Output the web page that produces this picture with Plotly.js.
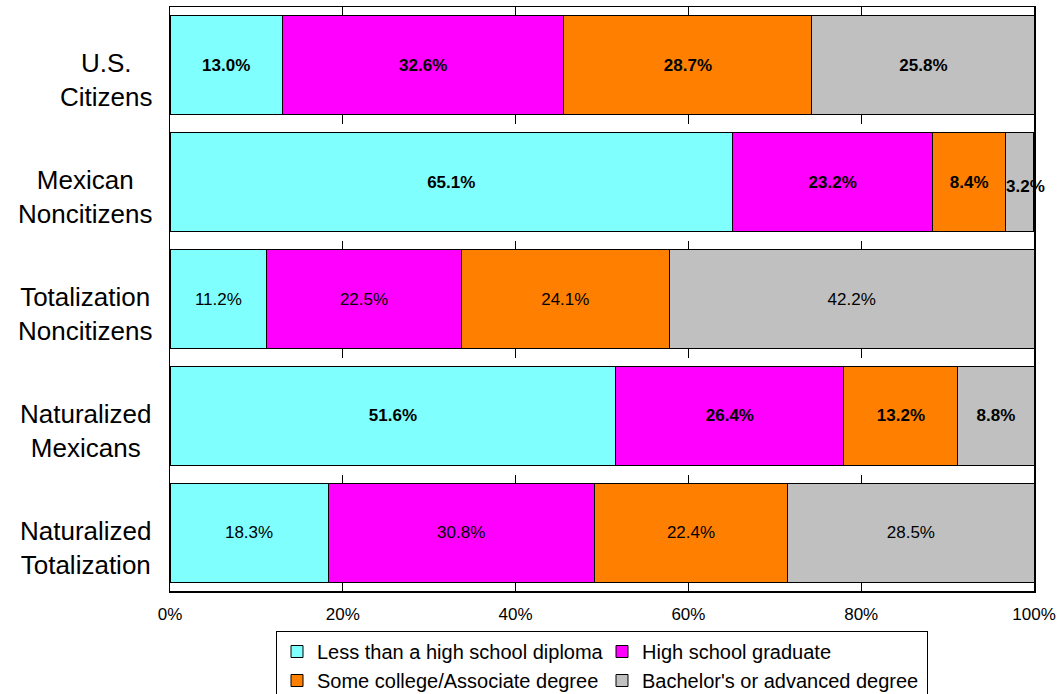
<!DOCTYPE html>
<html>
<head>
<meta charset="utf-8">
<script src="https://cdn.plot.ly/plotly-3.0.1.min.js"></script>
<style>html,body{margin:0;padding:0;background:#fff;}#chart{width:1060px;height:694px;}</style>
</head>
<body>
<div id="chart"></div>
<script>
const categories = ["U.S.<br>Citizens", "Mexican<br>Noncitizens", "Totalization<br>Noncitizens", "Naturalized<br>Mexicans", "Naturalized<br>Totalization"];
const boldLabels = [true, true, false, true, false];
const seriesNames = ["Less than a high school diploma", "High school graduate", "Some college/Associate degree", "Bachelor's or advanced degree"];
const lessThanHS = [13.0, 65.1, 11.2, 51.6, 18.3];
const hsGraduate = [32.6, 23.2, 22.5, 26.4, 30.8];
const someCollege = [28.7, 8.4, 24.1, 13.2, 22.4];
const bachelors = [25.8, 3.2, 42.2, 8.8, 28.5];
const tickVals = [0, 20, 40, 60, 80, 100];
const tickText = ["0%", "20%", "40%", "60%", "80%", "100%"];
const colors = ["#80FFFF", "#FF00FF", "#FF8000", "#C0C0C0"];

const FONT = "'Liberation Sans', Arial, sans-serif";
const seriesValues = [lessThanHS, hsGraduate, someCollege, bachelors];
const SMALL = 5; // labels of segments narrower than this overflow the bar
const labelOf = (v, i) => boldLabels[i] ? "<b>" + v.toFixed(1) + "%</b>" : v.toFixed(1) + "%";

const traces = seriesValues.map((vals, s) => ({
  type: "bar",
  orientation: "h",
  name: seriesNames[s],
  y: categories,
  x: vals,
  text: vals.map((v, i) => v < SMALL ? "" : labelOf(v, i)),
  textposition: "inside",
  insidetextanchor: "middle",
  constraintext: "none",
  textangle: 0,
  textfont: {family: FONT, size: 17, color: "#000"},
  marker: {color: colors[s], line: {color: "#000", width: 1}},
  hoverinfo: "skip"
}));

const annotations = categories.map(c => ({
  xref: "paper", yref: "y", x: 0, y: c,
  xanchor: "right", yanchor: "middle",
  xshift: -16, yshift: -15, align: "center", showarrow: false,
  text: c,
  font: {family: FONT, size: 26, color: "#000"}
}));

// labels of very narrow segments, drawn over the bar edge
seriesValues.forEach((vals, s) => {
  vals.forEach((v, i) => {
    if (v >= SMALL) return;
    let start = 0;
    for (let k = 0; k < s; k++) start += seriesValues[k][i];
    annotations.push({
      xref: "x", yref: "y", x: start + v / 2, y: categories[i],
      xanchor: "center", yanchor: "middle", xshift: 6, yshift: -4,
      text: labelOf(v, i), showarrow: false,
      font: {family: FONT, size: 17, color: "#000"}
    });
  });
});

const layout = {
  width: 1060, height: 694,
  margin: {l: 170, r: 26, t: 7, b: 103, autoexpand: false},
  paper_bgcolor: "#fff",
  plot_bgcolor: "#fff",
  barmode: "stack",
  bargap: 0.154,
  font: {family: FONT, color: "#000"},
  showlegend: true,
  legend: {
    orientation: "h",
    x: 0.5, xanchor: "center",
    y: -0.0685, yanchor: "top",
    traceorder: "normal",
    entrywidth: 280,
    bgcolor: "#fff",
    bordercolor: "#000",
    borderwidth: 1,
    font: {family: FONT, size: 20, color: "#000"}
  },
  xaxis: {
    range: [0, 100],
    tickvals: tickVals,
    ticktext: tickText,
    ticks: "inside",
    ticklen: 9,
    tickcolor: "#000",
    tickwidth: 1,
    ticklabelstandoff: 7,
    showline: true,
    linecolor: "#000",
    linewidth: 1.5,
    mirror: true,
    showgrid: true,
    gridcolor: "#000",
    griddash: "dash",
    gridwidth: 1,
    zeroline: false,
    tickfont: {family: FONT, size: 17, color: "#000"},
    fixedrange: true
  },
  yaxis: {
    autorange: "reversed",
    showticklabels: false,
    ticks: "",
    showline: true,
    linecolor: "#000",
    linewidth: 1.5,
    mirror: true,
    showgrid: false,
    zeroline: false,
    fixedrange: true
  },
  annotations: annotations
};

Plotly.newPlot("chart", traces, layout, {displayModeBar: false, staticPlot: true});
</script>
</body>
</html>
